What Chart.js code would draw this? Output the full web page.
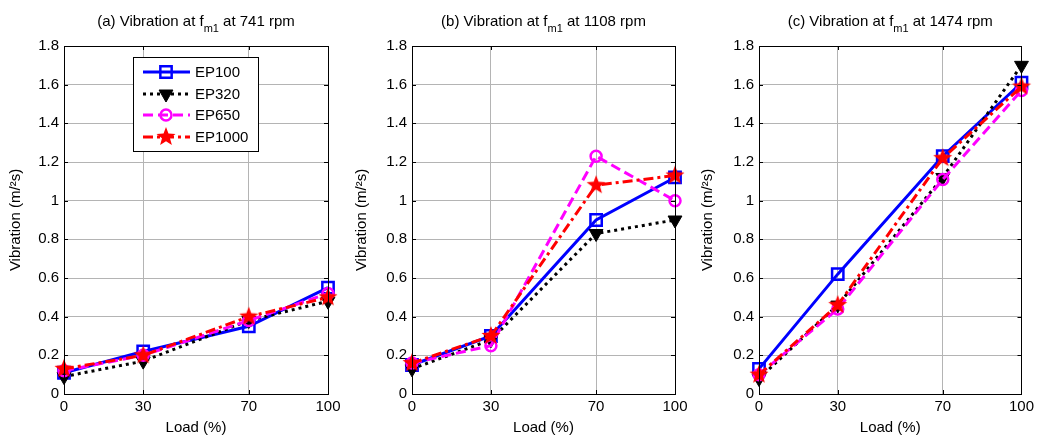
<!DOCTYPE html>
<html lang="en">
<head>
<meta charset="UTF-8">
<title>Vibration at fm1</title>
<script src="https://cdn.jsdelivr.net/npm/chart.js@4.4.0/dist/chart.umd.min.js"></script>
<style>
  body { margin: 0; background: #fff; }
  .panel { position: absolute; top: 0; width: 346px; height: 439px; }
</style>
</head>
<body>
<div class="panel" style="left:0"><canvas id="chartA"></canvas></div>
<div class="panel" style="left:346px"><canvas id="chartB"></canvas></div>
<div class="panel" style="left:692px"><canvas id="chartC"></canvas></div>

<script>
// --- Data ---
const loads = [0, 30, 70, 100];
const seriesNames = ['EP100', 'EP320', 'EP650', 'EP1000'];
const yTicks = [0, 0.2, 0.4, 0.6, 0.8, 1, 1.2, 1.4, 1.6, 1.8];

// panel (a) 741 rpm
const rpm741_EP100  = [0.11, 0.22, 0.35, 0.55];
const rpm741_EP320  = [0.09, 0.17, 0.38, 0.48];
const rpm741_EP650  = [0.12, 0.20, 0.38, 0.52];
const rpm741_EP1000 = [0.13, 0.20, 0.40, 0.50];

// panel (b) 1108 rpm
const rpm1108_EP100  = [0.15, 0.30, 0.90, 1.12];
const rpm1108_EP320  = [0.13, 0.28, 0.83, 0.90];
const rpm1108_EP650  = [0.16, 0.25, 1.23, 1.00];
const rpm1108_EP1000 = [0.16, 0.30, 1.08, 1.13];

// panel (c) 1474 rpm
const rpm1474_EP100  = [0.13, 0.62, 1.23, 1.61];
const rpm1474_EP320  = [0.08, 0.46, 1.12, 1.70];
const rpm1474_EP650  = [0.10, 0.44, 1.11, 1.57];
const rpm1474_EP1000 = [0.10, 0.46, 1.22, 1.59];

const FONT = 'Arial, "Liberation Sans", sans-serif';
const FS = 15;

// filled red star used as point style
function makeStar(r, color) {
    const c = document.createElement('canvas');
    c.width = c.height = r * 2 + 2;
    const ctx = c.getContext('2d');
    ctx.fillStyle = color;
    ctx.beginPath();
    for (let i = 0; i < 10; i++) {
        const rad = i % 2 === 0 ? r : r * 0.42;
        const a = -Math.PI / 2 + i * Math.PI / 5;
        const px = r + 1 + rad * Math.cos(a), py = r + 1 + rad * Math.sin(a);
        if (i === 0) ctx.moveTo(px, py); else ctx.lineTo(px, py);
    }
    ctx.closePath();
    ctx.fill();
    return c;
}
const starImg = makeStar(10, '#ff0000');

const styles = [
    { borderColor: '#0000ff', borderWidth: 3, borderDash: [], pointStyle: 'rect', pointRadius: 8,
      pointBackgroundColor: 'rgba(0,0,0,0)', pointBorderColor: '#0000ff', pointBorderWidth: 2.5, pointRotation: 0 },
    { borderColor: '#000000', borderWidth: 3, borderDash: [3, 4], pointStyle: 'triangle', pointRadius: 8,
      pointBackgroundColor: '#000000', pointBorderColor: '#000000', pointBorderWidth: 1, pointRotation: 180 },
    { borderColor: '#ff00ff', borderWidth: 3, borderDash: [10, 5], pointStyle: 'circle', pointRadius: 5.5,
      pointBackgroundColor: 'rgba(0,0,0,0)', pointBorderColor: '#ff00ff', pointBorderWidth: 2.5, pointRotation: 0 },
    { borderColor: '#ff0000', borderWidth: 3, borderDash: [10, 4, 3, 4], pointStyle: starImg, pointRadius: 10,
      pointBackgroundColor: '#ff0000', pointBorderColor: '#ff0000', pointBorderWidth: 1, pointRotation: 0 }
];

function buildDatasets(arrays) {
    return arrays.map((vals, i) => Object.assign({
        label: seriesNames[i],
        data: loads.map((x, j) => ({ x: x, y: vals[j] })),
        fill: false,
        tension: 0,
        clip: false,
        order: 3 - i
    }, styles[i]));
}

// title with subscript, plot box, inward ticks, legend
const decorPlugin = {
    id: 'decor',
    afterDraw(chart, args, opts) {
        const ctx = chart.ctx;
        const a = chart.chartArea;
        const xs = chart.scales.x, ys = chart.scales.y;
        ctx.save();

        // box
        ctx.strokeStyle = '#000';
        ctx.lineWidth = 1;
        ctx.setLineDash([]);
        ctx.strokeRect(Math.round(a.left) + 0.5, Math.round(a.top) + 0.5,
                       Math.round(a.right - a.left), Math.round(a.bottom - a.top));

        // inward ticks on all sides
        ctx.beginPath();
        loads.forEach(v => {
            const px = Math.round(xs.getPixelForValue(v)) + 0.5;
            ctx.moveTo(px, a.bottom); ctx.lineTo(px, a.bottom - 4);
            ctx.moveTo(px, a.top); ctx.lineTo(px, a.top + 4);
        });
        yTicks.forEach(v => {
            const py = Math.round(ys.getPixelForValue(v)) + 0.5;
            ctx.moveTo(a.left, py); ctx.lineTo(a.left + 4, py);
            ctx.moveTo(a.right, py); ctx.lineTo(a.right - 4, py);
        });
        ctx.stroke();

        // title: "(x) Vibration at f" + sub "m1" + " at N rpm"
        const p1 = opts.prefix + ' Vibration at f', sub = 'm1', p2 = ' at ' + opts.rpm + ' rpm';
        ctx.fillStyle = '#000';
        ctx.textBaseline = 'alphabetic';
        ctx.font = FS + 'px ' + FONT;
        const w1 = ctx.measureText(p1).width, w3 = ctx.measureText(p2).width;
        ctx.font = '11px ' + FONT;
        const w2 = ctx.measureText(sub).width;
        let tx = (a.left + a.right) / 2 - (w1 + w2 + w3) / 2;
        const ty = 26;
        ctx.font = FS + 'px ' + FONT;
        ctx.textAlign = 'left';
        ctx.fillText(p1, tx, ty);
        ctx.font = '11px ' + FONT;
        ctx.fillText(sub, tx + w1, ty + 6);
        ctx.font = FS + 'px ' + FONT;
        ctx.fillText(p2, tx + w1 + w2, ty);

        // legend
        if (opts.legend) {
            const bx = 133, by = 57, bw = 125, bh = 94;
            ctx.fillStyle = '#fff';
            ctx.fillRect(bx, by, bw, bh);
            ctx.strokeStyle = '#000';
            ctx.lineWidth = 1;
            ctx.strokeRect(bx + 0.5, by + 0.5, bw, bh);
            const rows = [72, 94, 115, 137];
            chart.data.datasets.forEach((ds, i) => {
                const y = rows[i];
                ctx.save();
                ctx.strokeStyle = ds.borderColor;
                ctx.lineWidth = ds.borderWidth;
                ctx.setLineDash(ds.borderDash);
                ctx.beginPath();
                ctx.moveTo(143, y); ctx.lineTo(190, y);
                ctx.stroke();
                ctx.setLineDash([]);
                ctx.strokeStyle = ds.pointBorderColor;
                ctx.fillStyle = ds.pointBackgroundColor;
                ctx.lineWidth = ds.pointBorderWidth;
                Chart.helpers.drawPoint(ctx, {
                    pointStyle: ds.pointStyle, rotation: ds.pointRotation,
                    radius: ds.pointRadius, borderWidth: ds.pointBorderWidth
                }, 166, y);
                ctx.restore();
                ctx.fillStyle = '#000';
                ctx.font = FS + 'px ' + FONT;
                ctx.textAlign = 'left';
                ctx.textBaseline = 'middle';
                ctx.fillText(ds.label, 195, y + 1);
            });
        }
        ctx.restore();
    }
};

function makeChart(id, arrays, prefix, rpm, yWidth, padRight, showLegend) {
    return new Chart(document.getElementById(id), {
        type: 'line',
        data: { datasets: buildDatasets(arrays) },
        options: {
            responsive: true,
            maintainAspectRatio: false,
            animation: false,
            layout: { padding: { left: 3, right: padRight, top: 46, bottom: 0 } },
            plugins: {
                legend: { display: false },
                tooltip: { enabled: false },
                decor: { prefix: prefix, rpm: rpm, legend: showLegend }
            },
            scales: {
                x: {
                    type: 'linear', min: 0, max: 100,
                    afterBuildTicks: s => { s.ticks = loads.map(v => ({ value: v })); },
                    afterFit: s => { s.height = 45; },
                    grid: { color: '#b4b4b4', lineWidth: 1, drawTicks: false },
                    border: { display: false },
                    ticks: { color: '#000', font: { family: FONT, size: FS }, padding: 4, maxRotation: 0 },
                    title: { display: true, text: 'Load (%)', color: '#000', font: { family: FONT, size: FS }, padding: { top: 0, bottom: 2 } }
                },
                y: {
                    min: 0, max: 1.8,
                    afterBuildTicks: s => { s.ticks = yTicks.map(v => ({ value: v })); },
                    afterFit: s => { s.width = yWidth; },
                    grid: { color: '#b4b4b4', lineWidth: 1, drawTicks: false },
                    border: { display: false },
                    ticks: { color: '#000', font: { family: FONT, size: FS }, padding: 5,
                             callback: v => String(+v.toFixed(1)) },
                    title: { display: true, text: 'Vibration (m/²s)', color: '#000', font: { family: FONT, size: FS }, padding: { top: 4, bottom: 0 } }
                }
            }
        },
        plugins: [decorPlugin]
    });
}

makeChart('chartA', [rpm741_EP100, rpm741_EP320, rpm741_EP650, rpm741_EP1000], '(a)', 741, 61, 18, true);
makeChart('chartB', [rpm1108_EP100, rpm1108_EP320, rpm1108_EP650, rpm1108_EP1000], '(b)', 1108, 63, 17, false);
makeChart('chartC', [rpm1474_EP100, rpm1474_EP320, rpm1474_EP650, rpm1474_EP1000], '(c)', 1474, 64, 15, false);
</script>
</body>
</html>
